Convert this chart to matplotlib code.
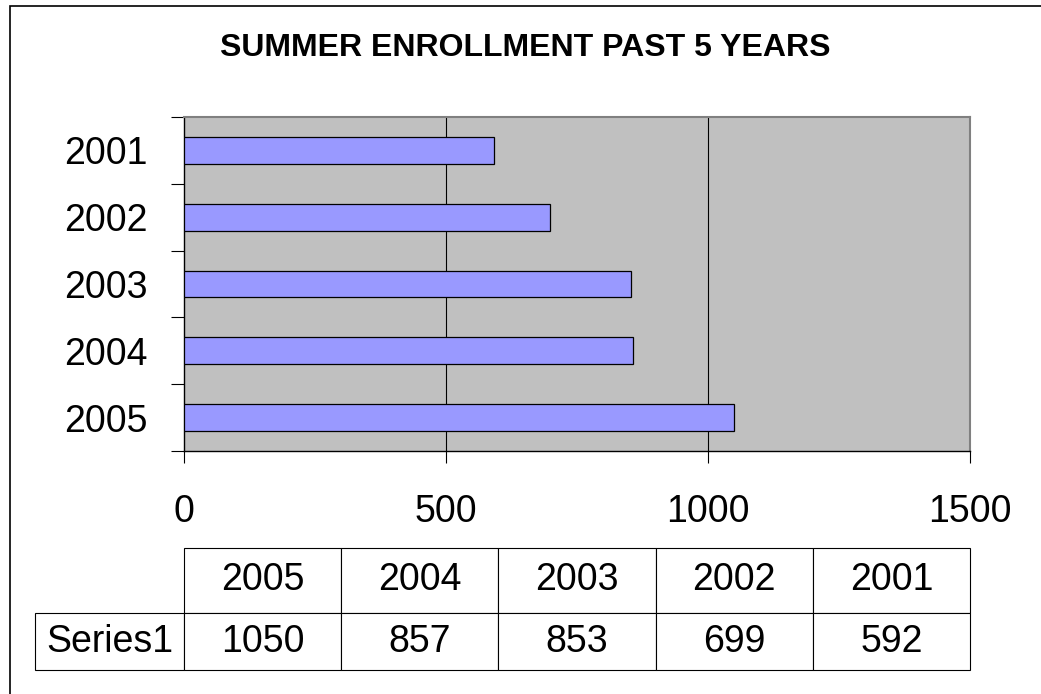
from matplotlib import pyplot
from matplotlib.patches import Rectangle

years = ["2005", "2004", "2003", "2002", "2001"]
enrollment = [1050, 857, 853, 699, 592]
series_name = "Series1"
x_ticks = [0, 500, 1000, 1500]
title = "SUMMER ENROLLMENT PAST 5 YEARS"

pyplot.rcParams["font.family"] = ["Liberation Sans", "DejaVu Sans"]

W, H = 1041, 694
fig = pyplot.figure(
    figsize=(W / 100, H / 100),
    dpi=100,
)
# plot area in pixels: x 184..970, y 117..451
ax = fig.add_axes(
    [184 / W, 1 - 451 / H, 786 / W, 334 / H],
)
ax.set_facecolor("#C0C0C0")

positions = list(range(len(years)))
ax.barh(
    positions,
    enrollment,
    height=0.4,
    color="#9999FF",
    edgecolor="black",
    linewidth=0.9,
    zorder=3,
)
ax.set_xlim(x_ticks[0], x_ticks[-1])
ax.set_ylim(-0.5, len(years) - 0.5)

for tick in x_ticks[1:-1]:
    ax.axvline(
        tick,
        color="black",
        linewidth=0.8,
        zorder=1,
    )

ax.set_xticks(x_ticks)
ax.set_xticklabels([str(t) for t in x_ticks])
ax.set_yticks(positions, labels=years)
ax.set_yticks(
    [p - 0.5 for p in positions] + [len(years) - 0.5],
    minor=True,
)
ax.tick_params(
    axis="y",
    which="major",
    length=0,
    pad=26,
    labelsize=27,
)
ax.tick_params(
    axis="y",
    which="minor",
    length=9.4,
    width=0.8,
    direction="out",
)
ax.tick_params(
    axis="x",
    length=8.6,
    width=0.8,
    pad=22,
    labelsize=27,
)

for side in ["top", "right"]:
    ax.spines[side].set_color("#808080")
    ax.spines[side].set_linewidth(1.5)
for side in ["left", "bottom"]:
    ax.spines[side].set_color("black")
    ax.spines[side].set_linewidth(1.0)

# data table under the chart
cell_text = [
    [""] + years,
    [series_name] + [str(v) for v in enrollment],
]
col_widths = [149] + [157.2] * len(years)
table = ax.table(
    cellText=cell_text,
    colWidths=[w / sum(col_widths) for w in col_widths],
    cellLoc="center",
    bbox=[(35 - 184) / 786, (451 - 670) / 334, 935 / 786, 122 / 334],
)
table.auto_set_font_size(False)
table.set_fontsize(27)
for (row, col), cell in table.get_celld().items():
    cell.set_linewidth(0.8)
    cell.set_edgecolor("black")
    cell.set_height(65 if row == 0 else 57)
table[0, 0].visible_edges = ""

fig.text(
    525 / W,
    1 - 48 / H,
    title,
    ha="center",
    va="center",
    fontsize=23,
    fontweight="bold",
)

fig.add_artist(
    Rectangle(
        (10 / W, -0.1),
        1.2,
        1 - 6 / H + 0.1,
        transform=fig.transFigure,
        fill=False,
        edgecolor="black",
        linewidth=1.2,
    )
)

fig.savefig("out.png", dpi=100)
